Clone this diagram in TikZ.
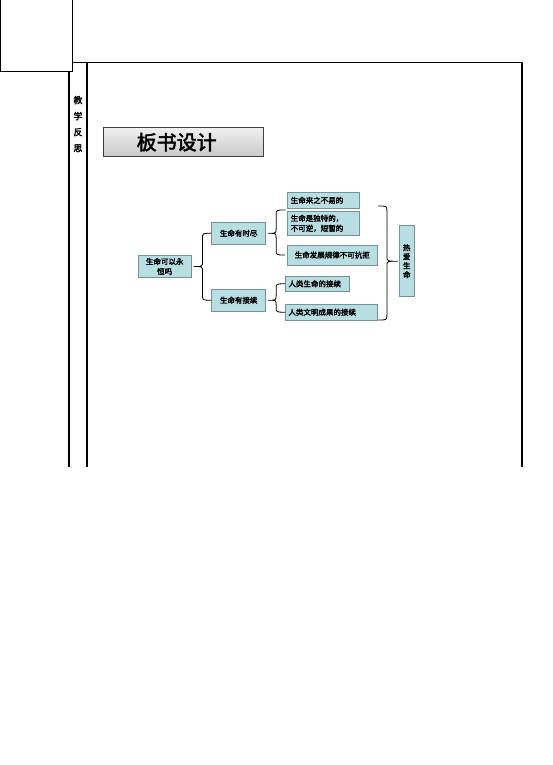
\documentclass[tikz,border=0pt]{standalone}
\usepackage{fontspec}
\setmainfont{Liberation Sans}
\newfontfamily\cjk{Noto Sans CJK SC}[AutoFakeBold=2.5]
\usetikzlibrary{calc}
\definecolor{boxfill}{RGB}{183,222,226}
\definecolor{boxline}{RGB}{118,146,150}

% brace from a parent tip to two children: tip, top end, bottom end, offset of the spine
\newcommand{\bracelink}[4]{%
  \draw[brace] let \p1=#1, \p2=#2, \p3=#3, \n1={\x1+#4} in
    (\p2) .. controls (\n1,\y2) .. (\n1,\y2-5pt) -- (\n1,\y1+5pt) .. controls (\n1,\y1) .. (\p1)
    .. controls (\n1,\y1) .. (\n1,\y1-5pt) -- (\n1,\y3+5pt) .. controls (\n1,\y3) .. (\p3);
}

\begin{document}
\begin{tikzpicture}[x=1pt,y=-1pt]
      \tikzset{
        box/.style={draw=boxline, fill=boxfill, line width=0.9pt, rectangle, inner xsep=3pt, inner ysep=1pt,
          font=\cjk\bfseries\fontsize{7.5}{10}\selectfont},
        leaf/.style={box, align=left, anchor=west},
        titlebox/.style={draw=black!75, line width=0.9pt, top color=gray!12, bottom color=gray!42,
          minimum height=29pt, inner xsep=33.4pt, text width=93.6pt, align=left,
          font=\cjk\bfseries\fontsize{20}{22}\selectfont},
        sidelabel/.style={align=center, font=\cjk\bfseries\fontsize{9}{16}\selectfont},
        brace/.style={draw, line width=0.8pt},
        frame/.style={draw, line width=1.6pt},
      }
      \useasboundingbox (0,0) rectangle (553,765);

      % page frame
      \draw[line width=1pt] (0,0) rectangle (72.7,72);
      \draw[frame] (72.7,62.7) -- (522,62.7) -- (522,467);
      \draw[frame] (69,72) -- (69,467);
      \draw[frame] (87,62.7) -- (87,467);

      \node [sidelabel] (side) at (78,124) {教\\学\\反\\思};
      \node [titlebox] (title) at (183.5,142.2) {板书设计};

      \node [box, minimum width=52.7pt, minimum height=21.6pt, align=center] (root) at (164.7,266.5) {生命可以永\\恒吗};
      \node [box, minimum width=54pt, minimum height=22pt] (end) at (238.7,233.3) {生命有时尽};
      \node [box, minimum width=54pt, minimum height=21.7pt] (cont) at (238.7,300.2) {生命有接续};

      \node [leaf, text width=66pt, minimum height=16pt] (hard) at (287.3,200.3) {生命来之不易的};
      \node [leaf, text width=66pt, minimum height=23.3pt] (unique) at (287.3,223.3) {生命是独特的，\\不可逆，短暂的};
      \node [box, minimum width=90pt, minimum height=20pt] (law) at (332.3,255) {生命发展规律不可抗拒};
      \node [leaf, text width=58pt, minimum height=14.3pt] (human) at (285,283.8) {人类生命的接续};
      \node [leaf, text width=86.3pt, minimum height=15.7pt] (civil) at (285,312.2) {人类文明成果的接续};

      \node [box, minimum width=14.7pt, minimum height=71pt, inner xsep=1pt, align=center,
        font=\cjk\bfseries\fontsize{7.5}{9}\selectfont] (love) at (406.7,261.2) {热\\爱\\生\\命};

      \coordinate (rtop) at (378,206);
      \coordinate (rbot) at (378,320);

      \bracelink{($(root.east)+(2,0)$)}{(end.west)}{(cont.west)}{9pt}
      \bracelink{($(end.east)+(2,0)$)}{($(hard.south west)!0.5!(unique.north west)+(-2,0)$)}{($(law.west)+(-2,0)$)}{8pt}
      \bracelink{($(cont.east)+(2,0)$)}{(human.west)}{(civil.west)}{8pt}
      \bracelink{($(love.west)+(-1,0)$)}{(rtop)}{(rbot)}{-11pt}
\end{tikzpicture}
\end{document}
